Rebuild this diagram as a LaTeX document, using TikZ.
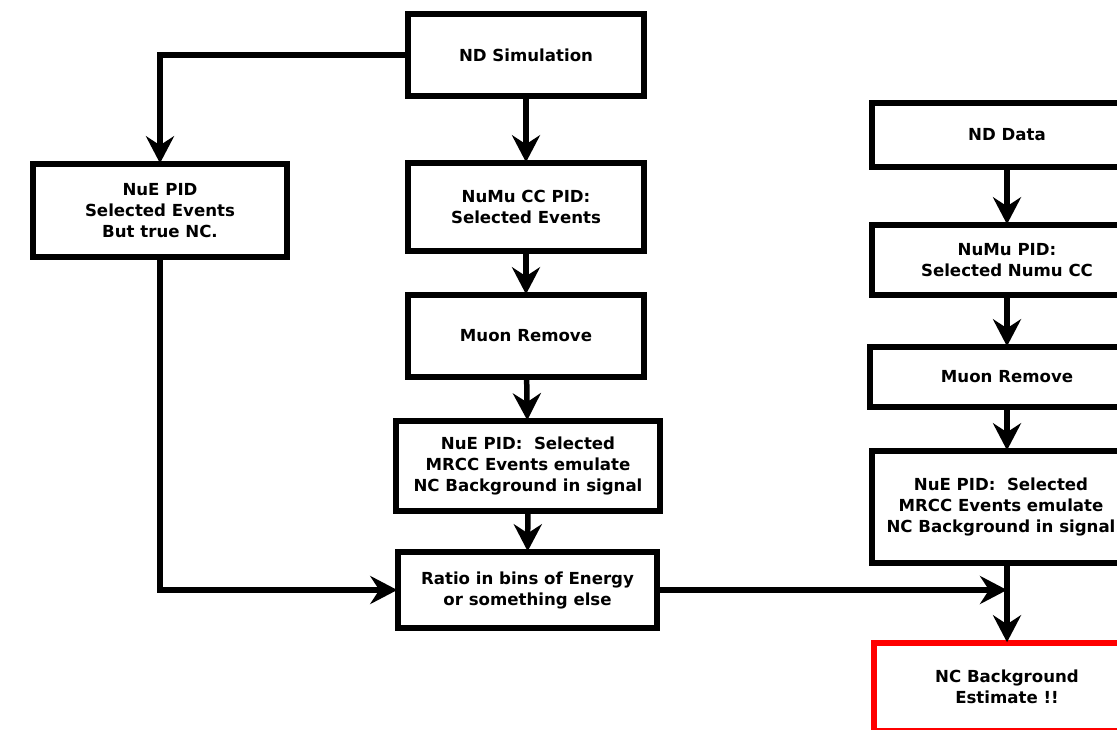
\documentclass[tikz,border=0pt]{standalone}
\usepackage{fontspec}
\setmainfont{DejaVu Sans}
\usetikzlibrary{arrows.meta,positioning,calc}
\definecolor{FlowRed}{HTML}{FF0000}

\begin{document}
\begin{tikzpicture}[x=1pt,y=-1pt,line cap=butt,line join=miter,
  box/.style={draw,line width=5.5pt,align=center,inner sep=0pt,
    font=\fontsize{16.6}{21}\selectfont\bfseries},
  arr/.style={line width=5.5pt,shorten >=-2pt,-{Stealth[length=27pt,width=28pt,inset=9pt]}}]
  \clip (0,0) rectangle (1117,730);
  % middle column
  \node[box,minimum width=236pt,minimum height=82pt] (sim) at (526,55) {ND Simulation};
  \node[box,minimum width=236pt,minimum height=88pt] (numucc) at (526,207) {NuMu CC PID:\\Selected Events};
  \node[box,minimum width=236pt,minimum height=82pt] (muon) at (526,336) {Muon Remove};
  \node[box,minimum width=264pt,minimum height=90pt] (nuemid) at (528,466) {NuE PID:\ \ Selected\\MRCC Events emulate\\NC Background in signal};
  \node[box,minimum width=259pt,minimum height=76pt] (ratio) at (527.5,590) {Ratio in bins of Energy\\or something else};
  % left column
  \node[box,minimum width=254pt,minimum height=93pt] (nueleft) at (160,210.5) {NuE PID\\Selected Events\\But true NC.};
  % right column (cut at the page edge)
  \node[box,minimum width=270pt,minimum height=64pt] (data) at (1007,135) {ND Data};
  \node[box,minimum width=270pt,minimum height=70pt] (numupid) at (1007,260) {NuMu PID:\\Selected Numu CC};
  \node[box,minimum width=274pt,minimum height=60pt] (muonR) at (1007,377) {Muon Remove};
  \node[box,minimum width=258pt,minimum height=112pt] (nueR) at (1001,507) {NuE PID:\ \ Selected\\MRCC Events emulate\\NC Background in signal};
  \node[box,draw=FlowRed,minimum width=266pt,minimum height=88pt] (ncbg) at (1007,687) {NC Background\\Estimate !!};
  \coordinate (nueRout) at (nueR.south -| ncbg.north);
  \coordinate (join) at (nueRout |- ratio.east);
  % connectors
  \draw[arr] (sim) -- (numucc);
  \draw[arr] (numucc) -- (muon);
  \draw[arr] (muon) -- (nuemid);
  \draw[arr] (nuemid) -- (ratio);
  \draw[arr] (sim.west) -| (nueleft.north);
  \draw[arr] (nueleft.south) |- (ratio.west);
  \draw[arr,shorten >=0pt] (ratio.east) -- (join);
  \draw[arr] (data) -- (numupid);
  \draw[arr] (numupid) -- (muonR);
  \draw[arr] (muonR) -- (nueR.north -| muonR.south);
  \draw[arr] (nueRout) -- (ncbg);
\end{tikzpicture}
\end{document}
